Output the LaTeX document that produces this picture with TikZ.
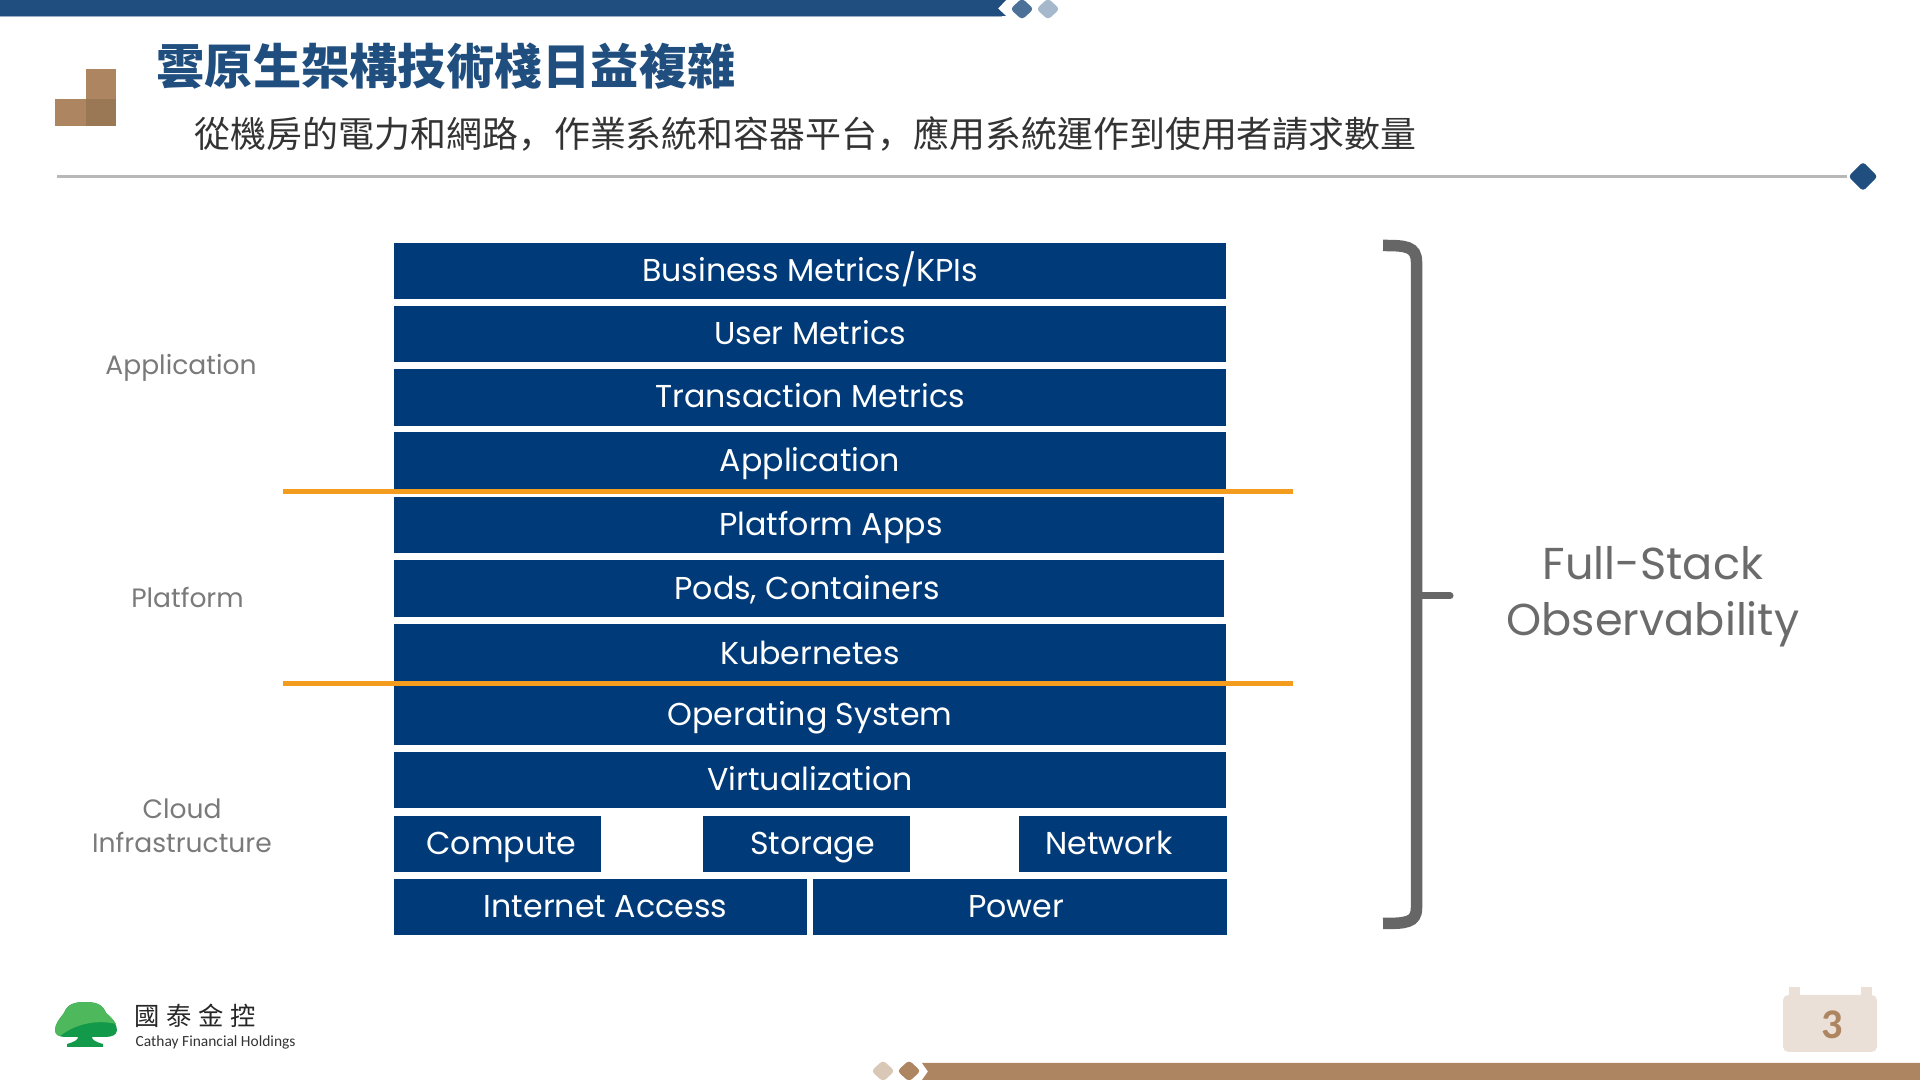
\documentclass[tikz,border=0pt]{standalone}
\usepackage{fontspec}
\usetikzlibrary{shapes.geometric}
\setmainfont{Poppins}
\newfontfamily\cjkfont{Noto Sans CJK TC}
\newfontfamily\cjkcomma{Noto Sans CJK SC}
\newfontfamily\badgefont{Carlito}
\definecolor{headblue}{HTML}{1F4E7F}
\definecolor{rowblue}{HTML}{003A78}
\definecolor{tan}{HTML}{AD8560}
\definecolor{tandark}{HTML}{9A7856}
\definecolor{treegreen}{HTML}{13994A}
\definecolor{treelight}{HTML}{4DB85C}

\begin{document}
\begin{tikzpicture}[
  x=0.01cm, y=-0.01cm,
  rowbox/.style={fill=rowblue, text=white, inner sep=0pt, align=center, font=\fontsize{9}{10}\selectfont, minimum height=0.565cm, text height=7.4pt, text depth=1.2pt},
  widebox/.style={rowbox, minimum width=8.32cm},
  midbox/.style={rowbox, minimum width=8.3cm},
  smallbox/.style={rowbox, minimum width=2.07cm},
  baseleft/.style={rowbox, minimum width=4.13cm},
  layerlabel/.style={align=center, text=black!52, inner sep=0pt, font=\fontsize{7.55}{9.6}\selectfont},
  splitline/.style={draw={rgb,255:red,243;green,156;blue,30}, line width=0.055cm},
  bracket/.style={draw=black!60, line width=0.115cm},
  gem/.style={diamond, rounded corners=1pt, inner sep=0pt, minimum width=0.24cm, minimum height=0.22cm}
]
\useasboundingbox (0,0) rectangle (1920,1080);

\fill[headblue!45] (0,16) rectangle (1002,17.5);
\fill[headblue] (0,0) -- (1006,0) -- (998,8.5) -- (1006,16) -- (0,16) -- cycle;
\node[gem, fill=headblue!80] (gemtopa) at (1022,9) {};
\node[gem, fill=headblue!40] (gemtopb) at (1048,9) {};

\fill[tan] (86,69) rectangle (116,99);
\fill[tan] (55,99) rectangle (86,126);
\fill[tandark] (86,99) rectangle (116,126);

\node[anchor=west, inner sep=0pt, text=headblue, font=\cjkfont\bfseries\fontsize{13.72}{16}\selectfont] (title) at (156,66) {雲原生架構技術棧日益複雜};
\node[anchor=west, inner sep=0pt, text=black!80, font=\cjkfont\fontsize{10.22}{12}\selectfont] (subtitle) at (194,134) {從機房的電力和網路{\cjkcomma ，}作業系統和容器平台{\cjkcomma ，}應用系統運作到使用者請求數量};

\coordinate (ruleleft) at (57,176.5);
\node[gem, fill=headblue, minimum width=0.3cm, minimum height=0.3cm] (ruleend) at (1863,176.5) {};
\draw[draw=black!28, line width=0.03cm] (ruleleft) -- (ruleend);

\node[widebox] (business) at (810,271) {Business Metrics/KPIs};
\node[widebox] (user) at (810,334) {User Metrics};
\node[widebox, text height=6.8pt] (transaction) at (810,397.5) {Transaction Metrics};
\node[widebox, minimum height=0.58cm] (application) at (810,461) {Application};
\node[midbox] (platformapps) at (809,525) {\hspace*{0.44cm}Platform Apps};
\node[midbox] (pods) at (809,588.5) {Pods, Containers\hspace*{0.04cm}};
\node[widebox, minimum height=0.6cm] (kubernetes) at (810,654) {Kubernetes};
\node[widebox, minimum height=0.61cm] (os) at (810,714.5) {Operating System};
\node[widebox] (virtualization) at (810,780) {Virtualization};
\node[smallbox] (compute) at (497.5,844) {\hspace*{0.08cm}Compute};
\node[smallbox] (storage) at (806.5,844) {\hspace*{0.12cm}Storage};
\node[smallbox] (network) at (1123,844) {Network\hspace*{0.28cm}};
\node[baseleft] (internet) at (600.5,907) {\hspace*{0.1cm}Internet Access};
\node[baseleft] (powerbox) at (1020,907) {Power\hspace*{0.08cm}};

\coordinate (splitaleft) at (283,491.5);
\coordinate (splitaright) at (1293,491.5);
\coordinate (splitbleft) at (283,683.5);
\coordinate (splitbright) at (1293,683.5);
\draw[splitline] (splitaleft) -- (splitaright);
\draw[splitline] (splitbleft) -- (splitbright);

\node[layerlabel] (lblapp) at (181,368) {Application};
\node[layerlabel] (lblplatform) at (187.5,597) {Platform};
\node[layerlabel] (lblcloud) at (182,825.5) {Cloud\\Infrastructure};

\draw[bracket] (1383,245.5) .. controls (1405,245.5) and (1416.5,246) .. (1416.5,262) -- (1416.5,908) .. controls (1416.5,923) and (1405,923.5) .. (1383,923.5);
\coordinate (bracketmid) at (1416.5,596);
\coordinate (brackettip) at (1450,596);
\draw[draw=black!60, line width=0.07cm, line cap=round] (bracketmid) -- (brackettip);

\node[align=center, inner sep=0pt, text=black!58, font=\fontsize{12.7}{16}\selectfont] (fullstack) at (1653,597) {Full-Stack\\Observability};

\fill[treegreen] (85,1002) .. controls (97,1002) and (103,1005) .. (106,1013) .. controls (112,1018) and (117,1024) .. (117,1030) .. controls (117,1035) and (112,1037) .. (105,1037) -- (92,1037) .. controls (92,1040) and (96,1042) .. (103,1044) -- (103,1047) -- (67,1047) -- (67,1044) .. controls (74,1042) and (78,1040) .. (78,1037) -- (65,1037) .. controls (58,1037) and (55,1034) .. (55,1030) .. controls (55,1024) and (60,1018) .. (64,1013) .. controls (67,1005) and (73,1002) .. (85,1002) -- cycle;
\fill[treelight] (85,1002) .. controls (97,1002) and (103,1005) .. (106,1013) .. controls (110,1016) and (114,1020) .. (116,1024) .. controls (100,1020) and (78,1022) .. (60,1036) .. controls (56,1035) and (55,1033) .. (55,1030) .. controls (55,1024) and (60,1018) .. (64,1013) .. controls (67,1005) and (73,1002) .. (85,1002) -- cycle;

\node[anchor=west, inner sep=0pt, text=black!85, font=\cjkfont\fontsize{7.2}{9}\selectfont] (logocn) at (134,1016) {國\hspace{0.065cm}泰\hspace{0.065cm}金\hspace{0.065cm}控};
\node[anchor=west, inner sep=0pt, text=black!80, font=\badgefont\fontsize{4.4}{5}\selectfont] (logoen) at (135,1042.5) {Cathay Financial Holdings};

\fill[tan] (922,1063) -- (1920,1063) -- (1920,1080) -- (922,1080) -- (928,1071.5) -- cycle;
\node[gem, fill=tan!45] (gembota) at (883,1071) {};
\node[gem, fill=tan] (gembotb) at (909,1071) {};

\fill[rounded corners=1.5pt, tan!25] (1783,995) rectangle (1877,1052);
\fill[tan!25] (1789,987) rectangle (1800,996);
\fill[tan!25] (1861,987) rectangle (1872,996);
\node[inner sep=0pt, text=tan, font=\badgefont\bfseries\fontsize{12}{14}\selectfont] (pagenum) at (1832,1025) {3};
\end{tikzpicture}
\end{document}
